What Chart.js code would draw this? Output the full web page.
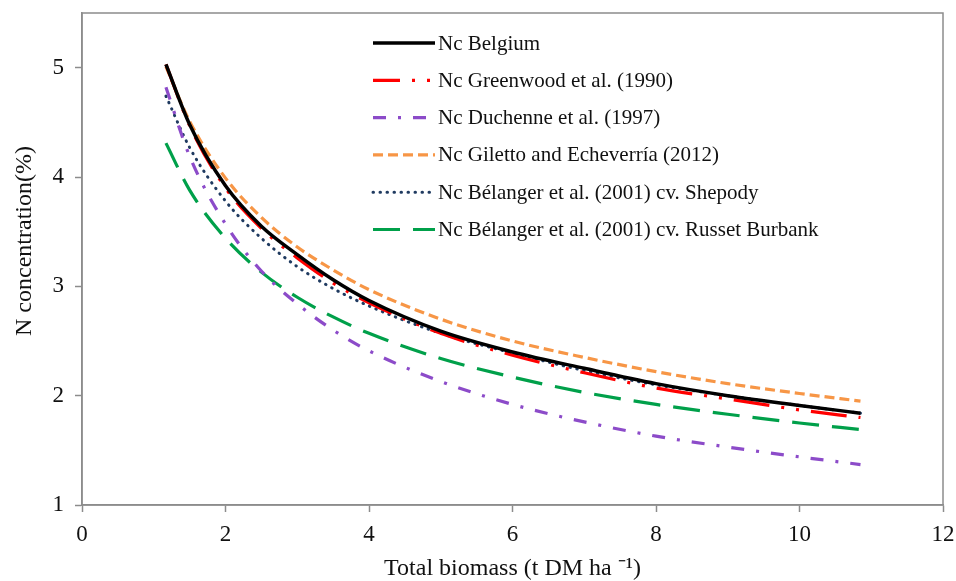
<!DOCTYPE html>
<html>
<head>
<meta charset="utf-8">
<script src="https://cdn.jsdelivr.net/npm/chart.js@4.4.0/dist/chart.umd.min.js"></script>
<style>
  body { margin: 0; background: #fff; }
  #wrap { width: 956px; height: 581px; }
</style>
</head>
<body>
<div id="wrap"><canvas id="myChart"></canvas></div>
<script>
// total biomass (t DM/ha) where the curves were read
var biomass = [1.17, 1.5, 2, 2.5, 3, 3.5, 4, 5, 6, 7, 8, 9, 10, 10.85];

// N concentration (%)
var ncBelgium   = [5.03, 4.48, 3.92, 3.55, 3.29, 3.06, 2.87, 2.59, 2.40, 2.25, 2.11, 2.00, 1.91, 1.84];
var ncGreenwood = [5.03, 4.47, 3.90, 3.53, 3.26, 3.03, 2.85, 2.57, 2.37, 2.21, 2.07, 1.97, 1.87, 1.80];
var ncDuchenne  = [4.82, 4.19, 3.57, 3.14, 2.84, 2.60, 2.41, 2.13, 1.92, 1.76, 1.63, 1.53, 1.44, 1.37];
var ncGiletto   = [5.01, 4.51, 3.99, 3.63, 3.36, 3.15, 2.97, 2.70, 2.50, 2.35, 2.22, 2.11, 2.02, 1.95];
var ncShepody   = [4.74, 4.27, 3.78, 3.44, 3.18, 2.98, 2.82, 2.57, 2.39, 2.23, 2.10, 2.00, 1.91, 1.84];
var ncRusset    = [4.31, 3.88, 3.44, 3.13, 2.90, 2.72, 2.57, 2.34, 2.17, 2.03, 1.92, 1.83, 1.75, 1.69];

var seriesNames = [
  "Nc Belgium",
  "Nc Greenwood et al. (1990)",
  "Nc Duchenne et al. (1997)",
  "Nc Giletto and Echeverría (2012)",
  "Nc Bélanger et al. (2001) cv. Shepody",
  "Nc Bélanger et al. (2001) cv. Russet Burbank"
];

function points(ys) {
  var out = [];
  for (var i = 0; i < biomass.length; i++) {
    out.push({ x: biomass[i], y: ys[i] });
  }
  return out;
}

var serif = "'Liberation Serif', 'Times New Roman', serif";
var axisGrey = "#8c8c8c";

// legend drawn inside the plot, like the original
var legendBox = {
  id: "legendBox",
  afterDatasetsDraw: function (chart) {
    var ctx = chart.ctx;
    var area = chart.chartArea;
    var x0 = area.left + 291;
    var y0 = area.top + 30;
    var rowH = 37.3;
    ctx.save();
    chart.data.datasets.forEach(function (ds, i) {
      var y = y0 + i * rowH;
      ctx.strokeStyle = ds.borderColor;
      ctx.lineWidth = ds.borderWidth;
      ctx.lineCap = ds.borderCapStyle || "butt";
      ctx.setLineDash(ds.borderDash || []);
      ctx.lineDashOffset = ds.legendDashOffset || 0;
      ctx.beginPath();
      ctx.moveTo(x0, y);
      ctx.lineTo(x0 + 62, y);
      ctx.stroke();
      ctx.setLineDash([]);
      ctx.fillStyle = "#111";
      ctx.font = "21px " + serif;
      ctx.textBaseline = "middle";
      ctx.textAlign = "left";
      ctx.fillText(ds.label, x0 + 65, y + 1);
    });
    ctx.restore();
  }
};

// grey frame round the plot area
var frame = {
  id: "frame",
  beforeDatasetsDraw: function (chart) {
    var a = chart.chartArea;
    var ctx = chart.ctx;
    ctx.save();
    ctx.strokeStyle = axisGrey;
    ctx.lineWidth = 1.5;
    ctx.strokeRect(a.left, a.top, a.right - a.left, a.bottom - a.top);
    ctx.restore();
  }
};

var data = {
  datasets: [
    { label: seriesNames[0], data: points(ncBelgium), borderColor: "#000000", borderWidth: 3.5 },
    { label: seriesNames[1], data: points(ncGreenwood), borderColor: "#ff0000", borderWidth: 3.2, borderDash: [36, 12, 3, 12, 3, 12], legendDashOffset: 9 },
    { label: seriesNames[2], data: points(ncDuchenne), borderColor: "#8c4bc9", borderWidth: 3.2, borderDash: [13, 12, 3, 12] },
    { label: seriesNames[3], data: points(ncGiletto), borderColor: "#f79646", borderWidth: 3.2, borderDash: [10, 5] },
    { label: seriesNames[4], data: points(ncShepody), borderColor: "#1f3a60", borderWidth: 3, borderDash: [0.5, 6.5], borderCapStyle: "round" },
    { label: seriesNames[5], data: points(ncRusset), borderColor: "#00a04a", borderWidth: 3.2, borderDash: [27, 13] }
  ]
};

var config = {
  type: "line",
  data: data,
  options: {
    responsive: true,
    maintainAspectRatio: false,
    animation: false,
    layout: { padding: { left: 0, top: 13, right: 13, bottom: 0 } },
    elements: {
      point: { radius: 0 },
      line: { cubicInterpolationMode: "monotone", fill: false }
    },
    plugins: {
      legend: { display: false },
      tooltip: { enabled: false }
    },
    scales: {
      x: {
        type: "linear",
        min: 0,
        max: 12,
        ticks: { stepSize: 2, font: { family: serif, size: 23 }, color: "#111", padding: 9 },
        grid: { drawOnChartArea: false, tickLength: 7, color: axisGrey, tickColor: axisGrey, tickWidth: 1.5 },
        border: { color: axisGrey, width: 1.5 },
        title: {
          display: true,
          text: "Total biomass (t DM ha \u207b\u00b9)",
          font: { family: serif, size: 24, lineHeight: 1 },
          color: "#111",
          padding: { top: 0, bottom: 0 }
        },
        afterFit: function (s) {
          s.height = 76;
          s.paddingLeft = 0;
          s.paddingRight = 0;
        }
      },
      y: {
        type: "linear",
        min: 1,
        max: 5.5,
        ticks: { stepSize: 1, includeBounds: false, font: { family: serif, size: 23 }, color: "#111", padding: 11 },
        grid: { drawOnChartArea: false, tickLength: 7, color: axisGrey, tickColor: axisGrey, tickWidth: 1.5 },
        border: { color: axisGrey, width: 1.5 },
        title: {
          display: true,
          text: "      N concentration(%)",
          font: { family: serif, size: 24, lineHeight: 1.2 },
          color: "#111",
          padding: { top: 10, bottom: 0 }
        },
        afterFit: function (s) {
          s.width = 82;
          s.paddingTop = 0;
          s.paddingBottom = 0;
        }
      }
    }
  },
  plugins: [frame, legendBox]
};

var myChart = new Chart(document.getElementById("myChart"), config);
</script>
</body>
</html>
